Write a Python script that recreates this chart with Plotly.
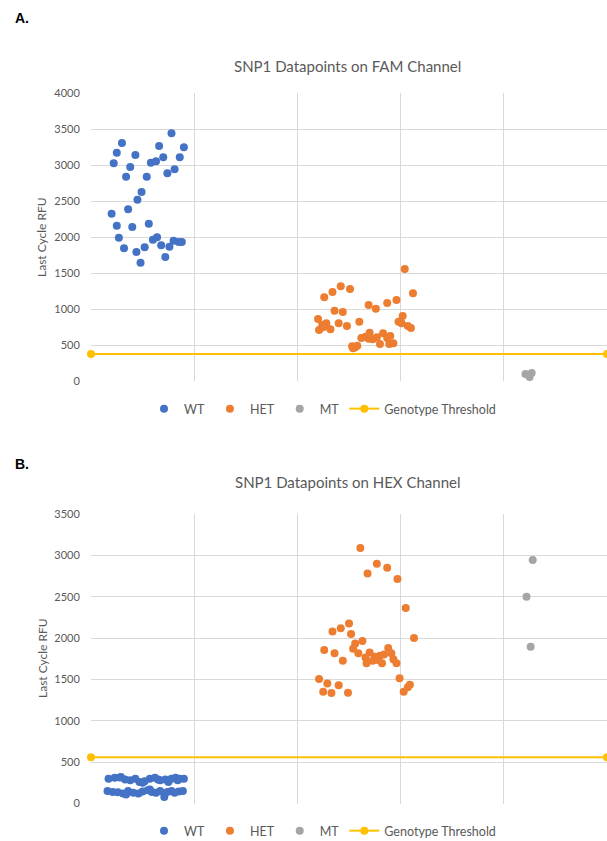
import plotly.graph_objects as go

# ---------------- Panel A: FAM channel ----------------
a_wt_x = [0.78, 0.30, 0.66, 0.90, 0.25, 0.43, 0.70, 0.86, 0.22, 0.38, 0.58, 0.63,
          0.81, 0.74, 0.34, 0.54, 0.49, 0.45, 0.36, 0.20, 0.25, 0.40, 0.56, 0.27,
          0.64, 0.60, 0.32, 0.52, 0.68, 0.44, 0.76, 0.80, 0.85, 0.88, 0.72, 0.48]
a_wt_y = [3440, 3306, 3264, 3246, 3171, 3139, 3107, 3107, 3024, 2972, 3032, 3051,
          2940, 2885, 2838, 2838, 2625, 2518, 2385, 2324, 2157, 2139, 2185, 1990,
          1996, 1963, 1843, 1857, 1885, 1792, 1865, 1949, 1931, 1931, 1722, 1643]

a_het_x = [3.04, 3.12, 2.26, 2.34, 2.42, 2.51, 2.69, 2.76, 2.87, 2.96, 2.36, 2.44,
           2.20, 3.02, 2.24, 2.28, 2.21, 2.32, 2.25, 2.40, 2.48, 2.60, 2.98, 3.01,
           3.07, 3.10, 2.53, 2.56, 2.58, 2.54, 2.62, 2.66, 2.70, 2.73, 2.77, 2.83,
           2.80, 2.87, 2.90, 2.89, 2.93, 2.69]
a_het_y = [1556, 1218, 1163, 1236, 1315, 1278, 1056, 1004, 1083, 1125, 976, 958,
           861, 903, 778, 801, 708, 718, 746, 801, 764, 824, 824, 801,
           764, 736, 482, 468, 490, 454, 597, 615, 671, 579, 607, 663,
           514, 597, 625, 514, 524, 588]

a_mt_x = [4.21, 4.25, 4.27]
a_mt_y = [97, 56, 111]

a_thr_x = [0, 5]
a_thr_y = [375, 375]

# ---------------- Panel B: HEX channel ----------------
b_wt_x = [0.17, 0.23, 0.28, 0.29, 0.33, 0.38, 0.43, 0.47, 0.50, 0.52, 0.57,
          0.62, 0.65, 0.67, 0.72, 0.75, 0.78, 0.82, 0.84, 0.86, 0.90,
          0.16, 0.21, 0.26, 0.31, 0.34, 0.36, 0.41, 0.46, 0.50, 0.55,
          0.57, 0.59, 0.63, 0.67, 0.71, 0.74, 0.78, 0.81, 0.85, 0.89]
b_wt_y = [300, 310, 315, 320, 290, 280, 300, 260, 250, 270, 300,
          310, 290, 280, 290, 260, 300, 310, 280, 300, 300,
          150, 140, 135, 120, 110, 150, 130, 120, 145, 160,
          170, 140, 130, 150, 80, 140, 150, 130, 145, 150]

b_het_x = [2.61, 2.77, 2.87, 2.68, 2.97, 3.05, 2.50, 2.42, 2.34, 2.52, 3.13,
           2.63, 2.56, 2.54, 2.26, 2.36, 2.59, 2.88, 2.70, 2.66, 2.75, 2.80,
           2.84, 2.91, 2.44, 2.67, 2.73, 2.78, 2.82, 2.93, 2.96, 2.21, 2.99,
           2.29, 2.25, 2.33, 2.40, 2.49, 3.09, 3.07, 3.03]
b_het_y = [3090, 2900, 2850, 2780, 2715, 2365, 2175, 2120, 2080, 2050, 2000,
           1965, 1935, 1870, 1855, 1815, 1815, 1880, 1825, 1765, 1775, 1785,
           1800, 1815, 1725, 1695, 1725, 1735, 1695, 1745, 1695, 1505, 1515,
           1450, 1350, 1335, 1430, 1340, 1435, 1405, 1350]

b_mt_x = [4.28, 4.22, 4.26]
b_mt_y = [2945, 2500, 1895]

b_thr_x = [0, 5]
b_thr_y = [560, 560]

series_names = ["WT", "HET", "MT", "Genotype Threshold"]
colors = ["#4472C4", "#ED7D31", "#A5A5A5", "#FFC000"]

W, H = 607, 841
FONT = "Lato, 'Open Sans', sans-serif"
GREY = "#595959"
GRID = "#D9D9D9"


def py(px):
    return (H - px) / H


def pxx(px):
    return px / W


fig = go.Figure()

panels = [
    ("x", "y", "legend", [(a_wt_x, a_wt_y), (a_het_x, a_het_y), (a_mt_x, a_mt_y)], (a_thr_x, a_thr_y)),
    ("x2", "y2", "legend2", [(b_wt_x, b_wt_y), (b_het_x, b_het_y), (b_mt_x, b_mt_y)], (b_thr_x, b_thr_y)),
]

for xa, ya, lg, pts, thr in panels:
    for i, (xs, ys) in enumerate(pts):
        fig.add_trace(go.Scatter(
            x=xs, y=ys, mode="markers", name=series_names[i],
            marker=dict(color=colors[i], size=8),
            xaxis=xa, yaxis=ya, legend=lg, showlegend=True,
        ))
    fig.add_trace(go.Scatter(
        x=thr[0], y=thr[1], mode="lines+markers", name=series_names[3],
        line=dict(color=colors[3], width=2),
        marker=dict(color=colors[3], size=8),
        xaxis=xa, yaxis=ya, legend=lg, showlegend=True, cliponaxis=False,
    ))

xaxis_common = dict(range=[0, 5], dtick=1, showticklabels=False, showgrid=True,
                    gridcolor=GRID, gridwidth=1, zeroline=False, showline=False,
                    domain=[pxx(91), 1.0], fixedrange=True, automargin=False)
yaxis_common = dict(showgrid=True, gridcolor=GRID, gridwidth=1, zeroline=False,
                    showline=False, ticks="outside", ticklen=8,
                    tickcolor="rgba(0,0,0,0)", automargin=False,
                    tickfont=dict(family=FONT, size=11, color=GREY))

legend_common = dict(orientation="h", x=pxx(144), xanchor="left", yanchor="middle",
                     font=dict(family=FONT, size=12.5, color=GREY), itemwidth=30,
                     bgcolor="rgba(0,0,0,0)", tracegroupgap=0)

fig.update_layout(
    width=W, height=H,
    margin=dict(l=0, r=0, t=0, b=0, autoexpand=False),
    paper_bgcolor="white", plot_bgcolor="white",
    font=dict(family=FONT, color=GREY),
    xaxis=dict(**xaxis_common, anchor="y"),
    yaxis=dict(**yaxis_common, range=[0, 4000], dtick=500,
               domain=[py(381), py(93)], anchor="x"),
    xaxis2=dict(**xaxis_common, anchor="y2"),
    yaxis2=dict(**yaxis_common, range=[0, 3500], dtick=500,
                domain=[py(803.5), py(514)], anchor="x2"),
    legend=dict(**legend_common, y=py(409)),
    legend2=dict(**legend_common, y=py(831)),
    showlegend=True,
)

annotations = [
    dict(text="<b>A.</b>", x=pxx(13), y=py(18), xanchor="left", yanchor="middle",
         font=dict(family="Liberation Sans, Arial, sans-serif", size=14, color="black")),
    dict(text="<b>B.</b>", x=pxx(13), y=py(464), xanchor="left", yanchor="middle",
         font=dict(family="Liberation Sans, Arial, sans-serif", size=14, color="black")),
    dict(text="SNP1 Datapoints on FAM Channel", x=pxx(347), y=py(66), xanchor="center",
         yanchor="middle", font=dict(family=FONT, size=15, color=GREY)),
    dict(text="SNP1 Datapoints on HEX Channel", x=pxx(347), y=py(482), xanchor="center",
         yanchor="middle", font=dict(family=FONT, size=15, color=GREY)),
    dict(text="Last Cycle RFU", x=pxx(42), y=py(237), xanchor="center", yanchor="middle",
         textangle=-90, font=dict(family=FONT, size=12, color=GREY)),
    dict(text="Last Cycle RFU", x=pxx(42), y=py(658), xanchor="center", yanchor="middle",
         textangle=-90, font=dict(family=FONT, size=12, color=GREY)),
]
for an in annotations:
    an.update(xref="paper", yref="paper", showarrow=False)
fig.update_layout(annotations=annotations)

fig.write_html("out.html",
               config={"displayModeBar": False},
               post_script="document.body.style.margin='0';document.body.style.padding='0';")
